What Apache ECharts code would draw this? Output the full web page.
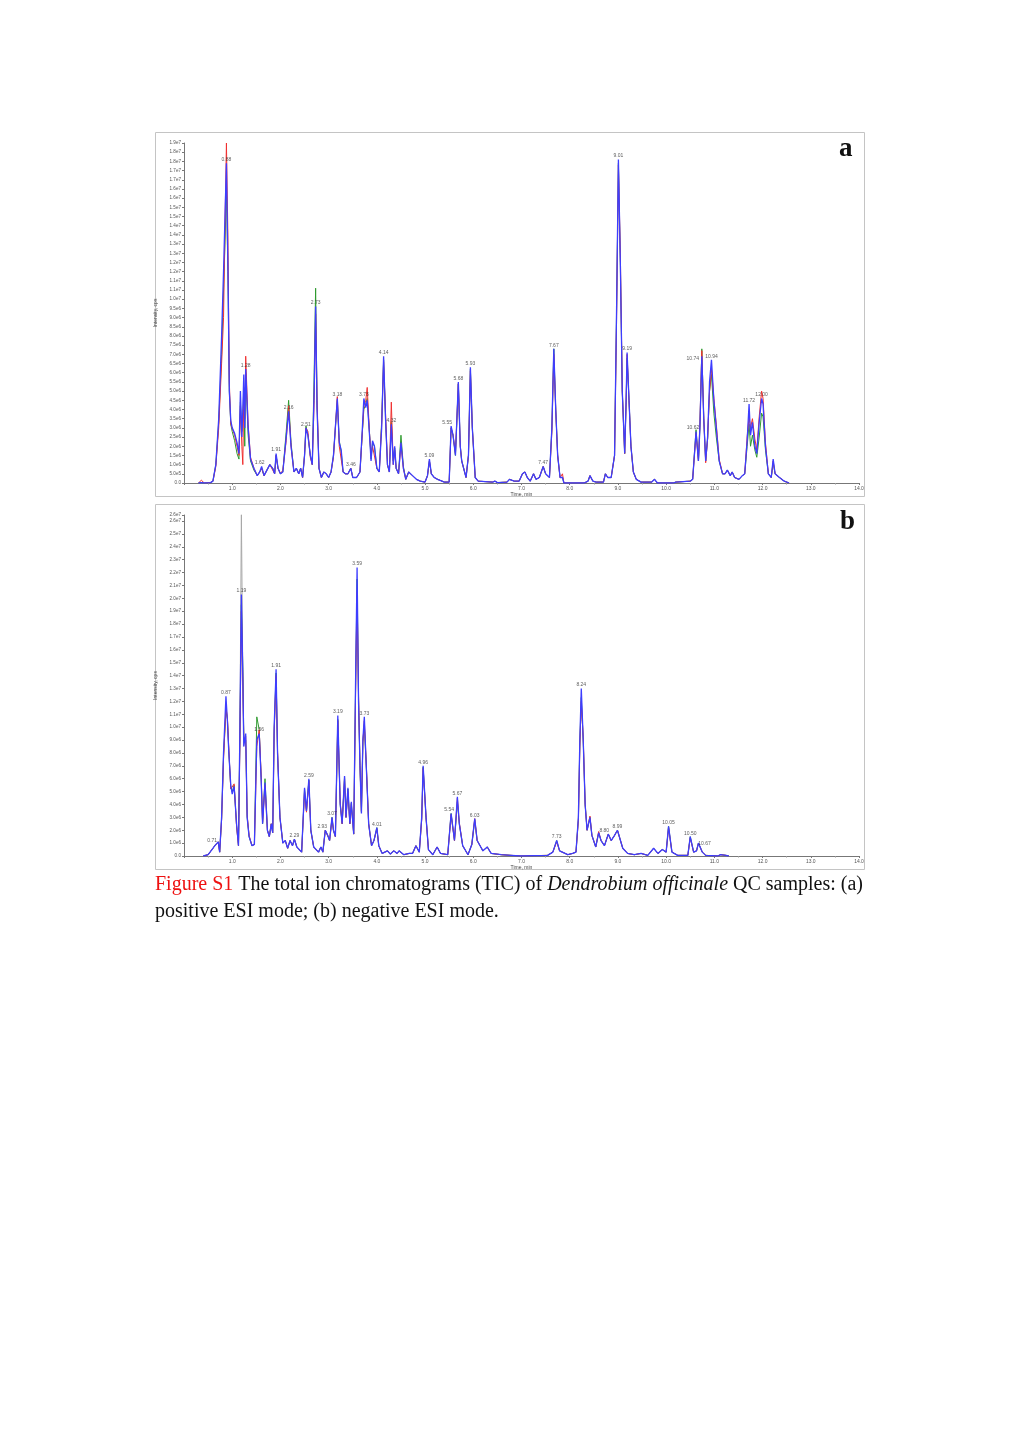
<!DOCTYPE html>
<html>
<head>
<meta charset="utf-8">
<script src="https://cdn.jsdelivr.net/npm/echarts@6/dist/echarts.min.js"></script>
<style>
html,body{margin:0;padding:0;background:#fff;}
#chart{width:1020px;height:1442px;}
</style>
</head>
<body>
<div id="chart"></div>
<script>
// ---------- Panel a: positive ESI mode (intensity in units of 1e6 cps) ----------
var aTime = [
0.30,0.36,0.42,0.55,0.60,0.66,0.72,0.78,0.82,0.85,
0.88,0.91,0.94,0.97,1.00,1.05,1.10,1.14,1.17,1.20,
1.22,1.24,1.26,1.28,1.33,1.38,1.45,1.52,1.57,1.61,
1.66,1.72,1.78,1.84,1.88,1.91,1.95,2.00,2.05,2.12,
2.17,2.22,2.28,2.33,2.38,2.42,2.46,2.50,2.53,2.57,
2.62,2.66,2.70,2.73,2.76,2.80,2.85,2.90,2.95,3.00,
3.05,3.10,3.18,3.22,3.26,3.30,3.35,3.40,3.46,3.50,
3.58,3.65,3.70,3.73,3.77,3.80,3.85,3.88,3.91,3.95,
4.00,4.05,4.10,4.14,4.18,4.22,4.26,4.30,4.34,4.37,
4.40,4.45,4.50,4.55,4.60,4.66,4.74,4.82,4.90,5.00,
5.05,5.09,5.13,5.19,5.26,5.40,5.50,5.54,5.58,5.63,
5.69,5.73,5.76,5.85,5.90,5.94,5.98,6.04,6.10,6.40,
6.45,6.50,6.70,6.75,6.85,6.95,7.02,7.07,7.12,7.18,
7.25,7.30,7.37,7.45,7.50,7.58,7.63,7.67,7.71,7.75,
7.80,7.85,7.88,8.30,8.38,8.42,8.48,8.55,8.70,8.74,
8.79,8.86,8.90,8.93,8.97,9.01,9.05,9.09,9.14,9.17,
9.19,9.23,9.27,9.32,9.38,9.48,9.70,9.76,9.82,10.15,
10.20,10.50,10.55,10.62,10.67,10.70,10.74,10.78,10.82,10.86,
10.90,10.94,10.99,11.04,11.10,11.17,11.22,11.27,11.33,11.37,
11.42,11.51,11.58,11.63,11.68,11.72,11.75,11.79,11.84,11.88,
11.93,11.98,12.01,12.06,12.12,12.18,12.22,12.26,12.35,12.45,
12.55];
var aBlue = [
0,0.02,0,0.02,0.1,1.0,3.5,8.0,11.5,14.5,
17.4,12.0,5.0,3.4,3.0,2.7,2.2,1.6,5.0,2.5,
4.0,5.9,3.0,6.2,3.0,1.3,0.8,0.4,0.6,0.9,
0.4,0.7,1.0,0.8,0.5,1.6,0.8,0.5,0.6,2.5,
3.9,2.0,0.6,0.8,0.5,0.8,0.3,1.5,3.0,2.6,
1.5,1.0,5.0,9.6,4.0,0.8,0.3,0.6,0.5,0.3,
0.6,1.5,4.6,2.2,1.8,0.6,0.5,0.5,0.8,0.3,
0.3,0.6,3.0,4.6,4.1,4.5,2.5,1.2,2.3,2.0,
0.8,0.6,3.0,6.9,3.5,1.0,0.6,3.2,1.0,2.0,
0.8,0.5,2.2,0.8,0.2,0.6,0.4,0.2,0.1,0.05,
0.4,1.3,0.5,0.3,0.2,0.05,0.05,3.1,2.6,1.5,
5.5,2.0,1.2,0.3,1.5,6.3,3.0,0.3,0.1,0.05,
0.1,0.02,0.05,0.2,0.1,0.1,0.5,0.6,0.3,0.1,
0.5,0.2,0.3,0.9,0.5,0.3,3.0,7.3,4.0,1.5,
0.3,0.3,0,0,0.1,0.4,0.1,0.05,0.05,0.5,
0.3,0.3,0.4,1.5,9.0,17.6,12.0,5.0,1.6,4.5,
7.1,4.5,2.0,0.6,0.2,0.05,0.05,0.2,0,0,
0.05,0.1,0.2,2.8,1.2,3.0,6.9,3.5,1.2,2.5,
5.5,6.7,4.5,3.0,1.2,0.5,0.5,0.7,0.4,0.6,
0.3,0.2,0.4,0.5,2.3,4.3,2.6,3.3,2.0,1.6,
3.3,4.6,4.3,2.0,0.5,0.3,1.3,0.5,0.3,0.1,
0];
var aRed = [
0,0.15,0,0.02,0.1,0.9,3.0,6.5,9.0,14.0,
18.5,13.5,5.5,3.2,3.1,2.6,2.0,1.5,4.2,2.0,
1.0,5.0,3.5,6.9,3.2,1.4,0.8,0.4,0.6,0.8,
0.4,0.7,1.0,0.7,0.5,1.5,0.8,0.5,0.7,2.3,
4.2,2.0,0.6,0.8,0.5,0.8,0.3,1.5,3.0,2.8,
1.4,1.0,4.5,9.2,4.5,0.8,0.3,0.6,0.5,0.3,
0.6,1.4,4.7,2.0,1.9,0.6,0.5,0.5,0.8,0.3,
0.3,0.6,2.8,4.2,4.5,5.2,2.6,1.5,2.0,2.1,
0.8,0.6,3.2,6.6,3.8,1.0,0.6,4.4,1.0,1.8,
0.8,0.5,2.1,0.8,0.2,0.6,0.4,0.2,0.1,0.05,
0.4,1.2,0.5,0.3,0.2,0.05,0.05,3.0,2.6,1.6,
5.4,2.0,1.2,0.3,1.5,6.1,3.0,0.3,0.1,0.05,
0.1,0.02,0.05,0.2,0.1,0.1,0.5,0.6,0.3,0.1,
0.5,0.2,0.3,0.9,0.5,0.3,2.8,7.0,4.0,1.5,
0.3,0.5,0,0,0.1,0.4,0.1,0.05,0.05,0.5,
0.3,0.3,0.4,1.5,8.5,17.3,12.5,5.0,1.6,4.4,
7.0,4.5,2.0,0.6,0.2,0.05,0.05,0.2,0,0,
0.05,0.1,0.2,2.7,1.2,3.2,7.2,3.5,1.1,2.4,
5.0,6.2,4.6,3.2,1.3,0.5,0.5,0.7,0.4,0.6,
0.3,0.2,0.4,0.5,2.5,3.6,3.0,3.5,2.4,1.8,
3.6,5.0,4.6,2.2,0.5,0.3,1.2,0.5,0.3,0.1,
0];
var aGreen = [
0,0.02,0,0.02,0.1,1.0,3.3,7.0,10.5,13.0,
16.0,11.5,5.0,3.2,2.8,2.3,1.6,1.3,4.4,2.8,
3.5,5.2,2.0,6.0,2.6,1.2,0.7,0.4,0.6,0.8,
0.4,0.7,1.0,0.8,0.5,1.5,0.8,0.5,0.6,2.8,
4.5,2.2,0.6,0.8,0.5,0.8,0.3,1.5,3.1,2.6,
1.5,1.0,6.0,10.6,4.2,0.8,0.3,0.6,0.5,0.3,
0.6,1.5,4.5,2.3,1.7,0.6,0.5,0.5,0.8,0.3,
0.3,0.6,2.8,4.0,4.3,4.6,2.6,1.3,2.2,2.0,
0.8,0.6,3.4,6.7,3.5,1.0,0.6,3.3,1.2,1.9,
0.8,0.5,2.6,0.9,0.2,0.6,0.4,0.2,0.1,0.05,
0.4,1.2,0.5,0.3,0.2,0.05,0.05,3.0,2.6,1.5,
5.4,2.0,1.2,0.3,1.5,6.2,3.0,0.3,0.1,0.05,
0.1,0.02,0.05,0.2,0.1,0.1,0.5,0.6,0.3,0.1,
0.5,0.2,0.3,0.9,0.5,0.3,3.0,7.3,4.0,1.5,
0.3,0.3,0,0,0.1,0.4,0.1,0.05,0.05,0.5,
0.3,0.3,0.4,1.5,9.0,17.4,12.0,5.0,1.6,4.4,
6.8,4.5,2.0,0.6,0.2,0.05,0.05,0.2,0,0,
0.05,0.1,0.2,2.9,1.2,3.0,7.3,3.5,1.2,2.4,
5.0,5.9,3.8,2.5,1.2,0.5,0.5,0.7,0.4,0.6,
0.3,0.2,0.4,0.5,2.0,3.2,2.0,2.6,1.8,1.4,
2.5,3.8,3.6,1.8,0.5,0.3,1.1,0.5,0.3,0.1,
0];
var aPeakText = ['0.88','1.28','1.62','1.91','2.16','2.51','2.73','3.18','3.46','3.73','4.14','4.32','5.09','5.55','5.68','5.93','7.47','7.67','9.01','9.19','10.62','10.74','10.94','11.72','12.00'];
var aPeakTime = [0.88,1.28,1.61,1.91,2.17,2.53,2.73,3.18,3.46,3.73,4.14,4.30,5.09,5.54,5.69,5.94,7.45,7.67,9.01,9.19,10.62,10.74,10.94,11.72,11.98];

// ---------- Panel b: negative ESI mode (intensity in units of 1e6 cps) ----------
var bTime = [
0.40,0.50,0.58,0.64,0.71,0.74,0.78,0.82,0.87,0.90,
0.93,0.97,1.00,1.04,1.09,1.13,1.16,1.19,1.22,1.24,
1.28,1.31,1.35,1.41,1.46,1.51,1.56,1.60,1.63,1.68,
1.73,1.77,1.81,1.84,1.87,1.91,1.94,1.99,2.05,2.10,
2.15,2.20,2.25,2.29,2.34,2.44,2.50,2.54,2.59,2.63,
2.69,2.79,2.84,2.88,2.93,2.98,3.02,3.07,3.10,3.14,
3.19,3.24,3.28,3.33,3.36,3.40,3.44,3.47,3.52,3.56,
3.59,3.62,3.65,3.68,3.71,3.74,3.78,3.83,3.89,3.94,
4.00,4.04,4.11,4.22,4.28,4.35,4.42,4.46,4.56,4.67,
4.74,4.81,4.88,4.93,4.96,5.02,5.07,5.16,5.25,5.32,
5.47,5.54,5.61,5.67,5.71,5.78,5.89,5.97,6.03,6.08,
6.20,6.29,6.37,6.58,6.78,6.99,7.54,7.65,7.73,7.79,
7.96,8.06,8.13,8.18,8.21,8.24,8.28,8.32,8.36,8.42,
8.46,8.54,8.60,8.65,8.72,8.80,8.86,8.93,8.99,9.10,
9.20,9.34,9.48,9.62,9.74,9.83,9.92,10.00,10.05,10.12,
10.24,10.45,10.50,10.57,10.63,10.67,10.75,10.82,11.07,11.13,
11.24,11.30];
var bBlue = [
0,0.1,0.5,0.8,1.1,0.3,3.0,8.0,12.4,10.5,
8.0,5.5,4.8,5.4,2.5,0.8,10.0,20.3,14.0,8.5,
9.5,3.0,1.5,0.8,0.9,9.0,9.5,6.0,2.5,5.7,
2.0,1.5,2.5,1.8,10.0,14.5,8.0,3.0,1.0,1.2,
0.6,1.2,0.8,1.3,0.7,0.3,5.3,3.5,6.0,2.0,
0.7,0.3,0.7,0.3,2.0,1.6,1.2,3.0,2.0,1.5,
10.9,4.0,2.5,6.2,3.0,5.3,2.5,4.2,1.7,14.0,
22.4,12.0,7.0,3.3,9.0,10.8,7.0,2.5,0.8,1.2,
2.2,0.8,0.2,0.4,0.15,0.4,0.2,0.4,0.1,0.2,
0.2,0.8,0.3,3.0,7.0,3.0,0.5,0.1,0.7,0.2,
0.1,3.3,1.2,4.6,2.5,0.8,0.1,0.9,2.9,1.2,
0.4,0.7,0.2,0.1,0.05,0,0.05,0.3,1.2,0.4,
0.1,0.2,0.3,3.0,9.0,13.0,9.0,4.0,2.0,3.0,
1.6,0.7,1.8,1.2,0.8,1.7,1.2,1.6,2.0,0.6,
0.2,0.1,0.2,0.05,0.6,0.2,0.5,0.3,2.3,0.3,
0.05,0.05,1.5,0.3,0.4,1.0,0.3,0.05,0,0.1,
0.05,0];
var bRed = [
0,0.1,0.5,0.8,1.1,0.3,2.8,7.5,11.5,10.8,
8.3,5.2,5.2,5.6,2.3,0.8,9.0,19.0,13.5,9.0,
9.3,3.2,1.6,0.8,0.9,8.5,9.8,6.3,2.6,5.5,
2.0,1.5,2.5,1.8,9.5,14.0,8.2,3.0,1.0,1.2,
0.6,1.2,0.8,1.3,0.7,0.3,5.0,3.4,5.8,2.0,
0.7,0.3,0.7,0.3,2.0,1.6,1.2,2.9,2.0,1.5,
10.5,4.2,2.5,6.0,3.0,5.0,2.5,4.0,1.7,13.0,
20.5,12.5,7.0,3.5,8.8,10.5,7.2,2.5,0.8,1.2,
2.1,0.8,0.2,0.4,0.15,0.4,0.2,0.4,0.1,0.2,
0.2,0.8,0.3,2.8,6.8,3.0,0.5,0.1,0.7,0.2,
0.1,3.2,1.2,4.5,2.6,0.8,0.1,0.9,2.9,1.2,
0.4,0.7,0.2,0.1,0.05,0,0.05,0.3,1.1,0.4,
0.1,0.2,0.3,2.8,8.5,12.0,9.2,4.0,2.0,3.1,
1.6,0.7,1.9,1.2,0.8,1.7,1.2,1.6,2.0,0.6,
0.2,0.1,0.2,0.05,0.6,0.2,0.5,0.3,2.2,0.3,
0.05,0.05,1.4,0.3,0.4,1.0,0.3,0.05,0,0.1,
0.05,0];
var bGreen = [
0,0.1,0.5,0.8,1.1,0.3,2.9,7.8,11.3,10.6,
8.1,5.3,5.0,5.5,2.4,0.8,9.5,19.5,14.5,9.2,
9.0,3.0,1.5,0.8,0.9,10.8,9.8,6.1,2.5,6.0,
2.0,1.5,2.5,1.8,9.8,14.2,8.0,3.0,1.0,1.2,
0.6,1.2,0.8,1.3,0.7,0.3,5.2,3.5,5.9,2.0,
0.7,0.3,0.7,0.3,2.0,1.6,1.2,3.0,2.0,1.5,
10.6,4.0,2.5,6.1,3.0,5.2,2.5,4.1,1.7,13.5,
21.5,12.2,7.0,3.4,8.9,10.2,7.0,2.5,0.8,1.2,
2.2,0.8,0.2,0.4,0.15,0.4,0.2,0.4,0.1,0.2,
0.2,0.8,0.3,2.9,6.9,3.0,0.5,0.1,0.7,0.2,
0.1,3.3,1.2,4.2,2.5,0.8,0.1,0.9,2.8,1.2,
0.4,0.7,0.2,0.1,0.05,0,0.05,0.3,1.2,0.4,
0.1,0.2,0.3,2.9,8.8,12.3,9.0,4.0,2.0,3.0,
1.6,0.7,1.8,1.2,0.8,1.7,1.2,1.6,2.0,0.6,
0.2,0.1,0.2,0.05,0.6,0.2,0.5,0.3,2.3,0.3,
0.05,0.05,1.5,0.3,0.4,1.0,0.3,0.05,0,0.1,
0.05,0];
var bGrayTime = [1.13,1.16,1.19,1.22,1.24];
var bGray = [0.8,10.0,26.5,14.0,8.5];
var bPeakText = ['0.71','0.87','1.19','1.56','1.91','2.29','2.59','2.93','3.07','3.19','3.59','3.73','4.01','4.96','5.54','5.67','6.03','7.73','8.24','8.80','8.99','10.05','10.50','10.67'];
var bPeakTime = [0.71,0.87,1.19,1.56,1.91,2.29,2.59,2.93,3.07,3.19,3.59,3.74,4.00,4.96,5.54,5.67,6.03,7.73,8.24,8.80,8.99,10.05,10.50,10.67];

// axis tick labels
var xTickLabels = ['1.0','2.0','3.0','4.0','5.0','6.0','7.0','8.0','9.0','10.0','11.0','12.0','13.0','14.0'];

// label nudges (styling only)
var labelNudge = {
  a: { '10.74': [-9, 6], '5.55': [-4, 0], '10.62': [-3, 0], '1.62': [-2, 0] },
  b: { '0.71': [-6, 2], '2.93': [-3, 0], '8.80': [-4, 0], '10.67': [6, 4], '5.54': [-2, 0] }
};

function pairs(t, v) { return t.map(function (x, i) { return [x, v[i]]; }); }
function peakPoints(times, texts, t, v, nudge) {
  return times.map(function (pt, k) {
    var best = 0;
    for (var i = 1; i < t.length; i++) if (Math.abs(t[i] - pt) < Math.abs(t[best] - pt)) best = i;
    var d = { value: [t[best], v[best]], name: texts[k] };
    if (nudge[texts[k]]) d.label = { offset: nudge[texts[k]] };
    return d;
  });
}
function yFmt(v) {
  if (v === 0) return '0.0';
  return (v * 1e6).toExponential(1).replace('+', '');
}

var COL_BLUE = '#3d3dff', COL_RED = '#f03030', COL_GREEN = '#2f9a2f', COL_GRAY = '#a8a8a8';
var FONT = 'Liberation Sans, Arial, sans-serif';
var SERIF = '"Liberation Serif", serif';

function xAxis(gi) {
  return {
    gridIndex: gi, type: 'value', min: 0, max: 14, interval: 1,
    name: 'Time, min', nameLocation: 'middle', nameGap: 9,
    nameTextStyle: { fontSize: 5, color: '#444', fontFamily: FONT },
    axisLine: { lineStyle: { color: '#777', width: 1 } },
    axisTick: { length: 2, lineStyle: { color: '#777' } },
    minorTick: { show: true, splitNumber: 2, length: 1.5, lineStyle: { color: '#999' } },
    splitLine: { show: false },
    axisLabel: { fontSize: 5, color: '#555', fontFamily: FONT, margin: 3, showMinLabel: false,
      formatter: function (v) { return v === 0 ? '' : xTickLabels[Math.round(v) - 1]; } }
  };
}
function yAxis(gi, max, interval) {
  return {
    gridIndex: gi, type: 'value', min: 0, max: max, interval: interval,
    name: 'Intensity, cps', nameLocation: 'middle', nameRotate: 90, nameGap: 22,
    nameTextStyle: { fontSize: 5, color: '#444', fontFamily: FONT },
    axisLine: { show: true, lineStyle: { color: '#777', width: 1 } },
    axisTick: { show: true, length: 2, lineStyle: { color: '#777' } },
    splitLine: { show: false },
    axisLabel: { fontSize: 4.6, color: '#555', fontFamily: FONT, margin: 3, formatter: yFmt }
  };
}
function lineSeries(gi, name, t, v, color, z, w) {
  return {
    name: name, type: 'line', xAxisIndex: gi, yAxisIndex: gi, data: pairs(t, v),
    showSymbol: false, symbol: 'none', smooth: false, z: z,
    lineStyle: { color: color, width: w }, silent: true
  };
}
function labelSeries(gi, pts) {
  return {
    type: 'scatter', xAxisIndex: gi, yAxisIndex: gi, data: pts, symbolSize: 0, z: 10, silent: true,
    label: { show: true, position: 'top', distance: 1, fontSize: 5, color: '#333', fontFamily: FONT,
      formatter: function (p) { return p.name; } }
  };
}

var chart = echarts.init(document.getElementById('chart'), null, { renderer: 'canvas' });
chart.setOption({
  animation: false,
  backgroundColor: '#ffffff',
  grid: [
    { left: 184, right: 161, top: 143, bottom: 959 },
    { left: 184, right: 161, top: 515, bottom: 586 }
  ],
  xAxis: [xAxis(0), xAxis(1)],
  yAxis: [yAxis(0, 18.5, 0.5), yAxis(1, 26.47, 1)],
  series: [
    lineSeries(0, 'green a', aTime, aGreen, COL_GREEN, 2, 1),
    lineSeries(0, 'red a', aTime, aRed, COL_RED, 3, 1),
    lineSeries(0, 'blue a', aTime, aBlue, COL_BLUE, 4, 1.3),
    labelSeries(0, peakPoints(aPeakTime, aPeakText, aTime, aBlue, labelNudge.a)),
    lineSeries(1, 'gray b', bGrayTime, bGray, COL_GRAY, 1, 1),
    lineSeries(1, 'green b', bTime, bGreen, COL_GREEN, 2, 1),
    lineSeries(1, 'red b', bTime, bRed, COL_RED, 3, 1),
    lineSeries(1, 'blue b', bTime, bBlue, COL_BLUE, 4, 1.3),
    labelSeries(1, peakPoints(bPeakTime, bPeakText, bTime, bBlue, labelNudge.b))
  ],
  graphic: [
    { type: 'rect', shape: { x: 155.5, y: 132.5, width: 709, height: 364 }, style: { fill: 'none', stroke: '#c4c4c4', lineWidth: 1 }, z: 0 },
    { type: 'rect', shape: { x: 155.5, y: 504.5, width: 709, height: 365 }, style: { fill: 'none', stroke: '#c4c4c4', lineWidth: 1 }, z: 0 },
    { type: 'text', x: 839, y: 136, style: { text: 'a', font: 'bold 27px ' + SERIF, fill: '#111' }, z: 20 },
    { type: 'text', x: 840, y: 509, style: { text: 'b', font: 'bold 27px ' + SERIF, fill: '#111' }, z: 20 },
    { type: 'text', x: 155, y: 875, z: 20, style: {
        text: '{r|Figure S1} {n|The total ion chromatograms (TIC) of} {i|Dendrobium officinale} {n|QC samples: (a)}',
        rich: {
          r: { fill: '#ee1111', font: '20px ' + SERIF },
          n: { fill: '#111', font: '20px ' + SERIF },
          i: { fill: '#111', font: 'italic 20px ' + SERIF }
        },
        font: '20px ' + SERIF
    } },
    { type: 'text', x: 155, y: 902, z: 20, style: { text: 'positive ESI mode; (b) negative ESI mode.', font: '20px ' + SERIF, fill: '#111' } }
  ]
});
</script>
</body>
</html>
